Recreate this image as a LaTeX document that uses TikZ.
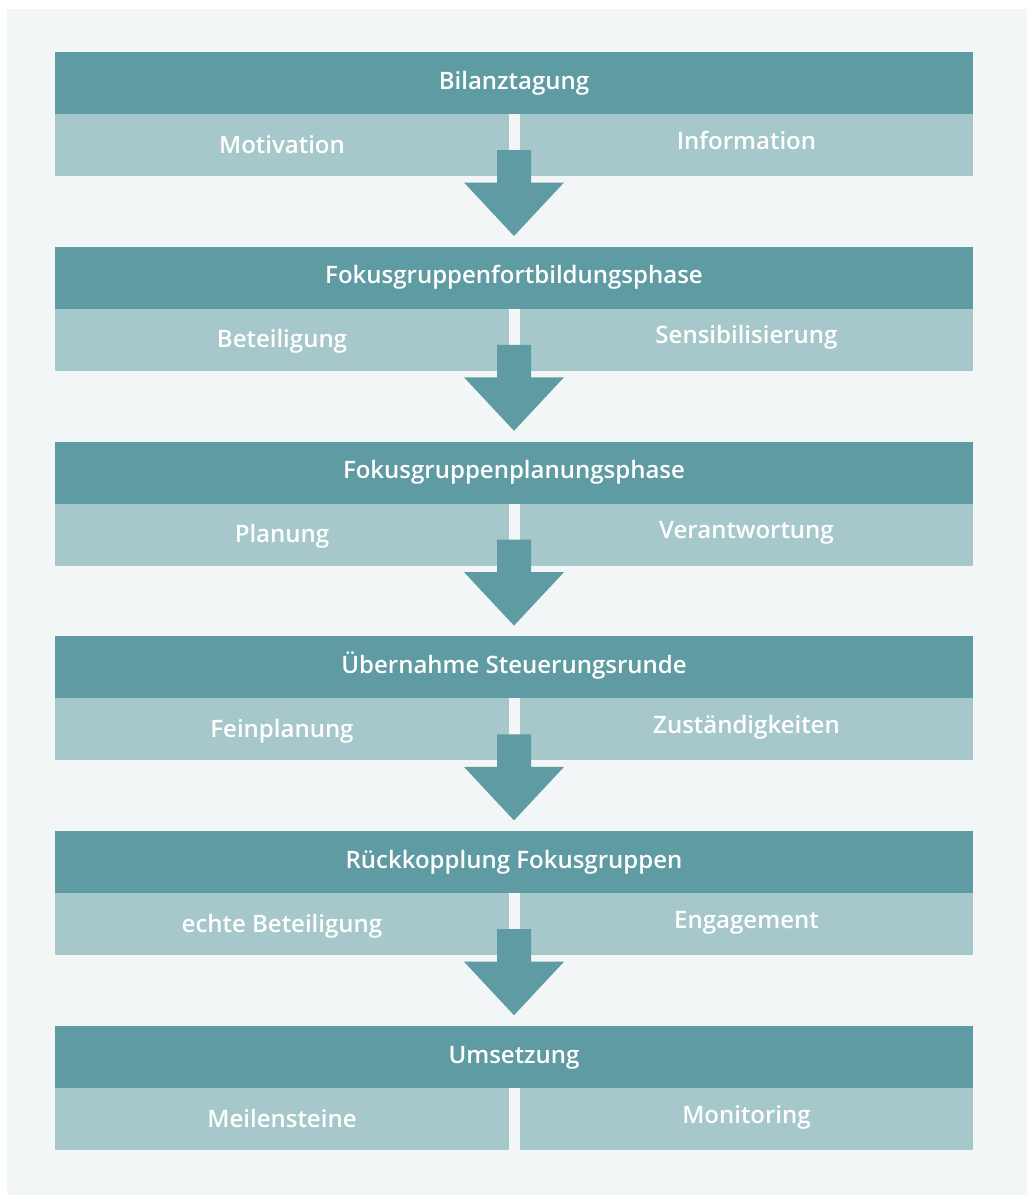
\documentclass[tikz,border=0pt]{standalone}
\usepackage{fontspec}
\setmainfont{Open Sans}[BoldFont={* Semibold}]
\definecolor{panel}{HTML}{F2F6F7}
\definecolor{head}{HTML}{5E9BA2}
\definecolor{sub}{HTML}{A7C8CA}
\tikzset{
  headbox/.style={fill=head, draw=none},
  subbox/.style={fill=sub, draw=none},
  lbl/.style={text=white, font=\bfseries\fontsize{24}{27}\selectfont, anchor=base, inner sep=0pt},
  arrowshape/.style={fill=head, draw=none}
}
\begin{document}
\begin{tikzpicture}[x=1pt,y=-1pt]
\useasboundingbox (0,0) rectangle (1027,1195);
\fill[white] (0,0) rectangle (1027,1195);
\fill[panel] (7,9) rectangle (1027,1195);
\foreach \i/\h/\l/\r in {
  0/Bilanztagung/Motivation/Information,
  1/Fokusgruppenfortbildungsphase/Beteiligung/Sensibilisierung,
  2/Fokusgruppenplanungsphase/Planung/Verantwortung,
  3/Übernahme Steuerungsrunde/Feinplanung/Zuständigkeiten,
  4/Rückkopplung Fokusgruppen/echte Beteiligung/Engagement,
  5/Umsetzung/Meilensteine/Monitoring}{
  \pgfmathsetmacro{\t}{52+\i*194.8}
  \fill[headbox] (55,\t) rectangle (973,\t+62);
  \fill[subbox] (55,\t+62) rectangle (509,\t+124);
  \fill[subbox] (520,\t+62) rectangle (973,\t+124);
  \node[lbl] (h\i) at (514,\t+37) {\h};
  \node[lbl] (l\i) at (282,\t+101) {\l};
  \node[lbl] (r\i) at (746.5,\t+97) {\r};
  \ifnum\i<5
    \fill[arrowshape] (497,\t+98) -- (531,\t+98) -- (531,\t+130.5) -- (564,\t+130.5)
      -- (514,\t+184) -- (464,\t+130.5) -- (497,\t+130.5) -- cycle;
  \fi
}
\end{tikzpicture}
\end{document}
